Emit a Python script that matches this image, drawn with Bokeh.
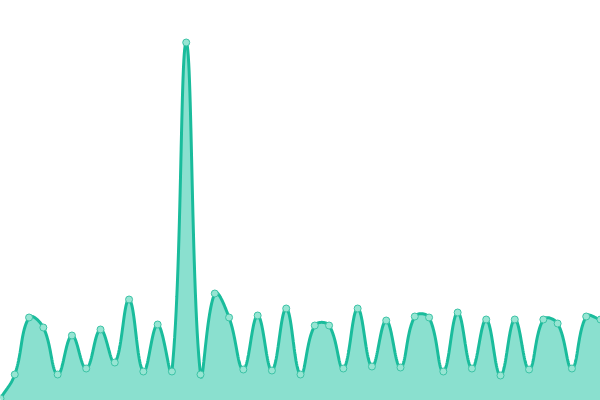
import numpy as np
from bokeh.plotting import figure
from bokeh.models import Range1d, GlobalInlineStyleSheet
from bokeh.embed import file_html
from bokeh.resources import INLINE

# data
values = [2, 26, 83, 73, 26, 65, 32, 71, 38, 101, 29, 76, 29, 358, 26, 107, 83, 31, 85, 30,
          92, 26, 75, 75, 32, 92, 34, 80, 33, 84, 83, 29, 88, 32, 81, 25, 81, 31, 81, 77,
          32, 84, 81]
xs = list(range(len(values)))

W, H = 600, 400
Y_MAX = 400.0
X_MAX = len(values) - 1
TENSION = 0.4

# cardinal-style spline (Chart.js splineCurve), computed in screen-proportional units
px = np.array(xs, dtype=float) * W / X_MAX
py = np.array(values, dtype=float) * H / Y_MAX
n = len(px)
cp_prev = np.zeros((n, 2))
cp_next = np.zeros((n, 2))
for i in range(n):
    p0 = (px[max(i - 1, 0)], py[max(i - 1, 0)])
    p1 = (px[i], py[i])
    p2 = (px[min(i + 1, n - 1)], py[min(i + 1, n - 1)])
    d01 = np.hypot(p1[0] - p0[0], p1[1] - p0[1])
    d12 = np.hypot(p2[0] - p1[0], p2[1] - p1[1])
    tot = d01 + d12
    s01 = d01 / tot if tot else 0
    s12 = d12 / tot if tot else 0
    fa = TENSION * s01
    fb = TENSION * s12
    cp_prev[i] = (p1[0] - fa * (p2[0] - p0[0]), p1[1] - fa * (p2[1] - p0[1]))
    cp_next[i] = (p1[0] + fb * (p2[0] - p0[0]), p1[1] + fb * (p2[1] - p0[1]))
cp_prev[:, 1] = np.clip(cp_prev[:, 1], 0, H)
cp_next[:, 1] = np.clip(cp_next[:, 1], 0, H)

cx, cy = [], []
t = np.linspace(0, 1, 30)
for i in range(n - 1):
    P0 = np.array([px[i], py[i]])
    P1 = cp_next[i]
    P2 = cp_prev[i + 1]
    P3 = np.array([px[i + 1], py[i + 1]])
    seg = ((1 - t) ** 3)[:, None] * P0 + (3 * (1 - t) ** 2 * t)[:, None] * P1 \
        + (3 * (1 - t) * t ** 2)[:, None] * P2 + (t ** 3)[:, None] * P3
    if i > 0:
        seg = seg[1:]
    cx.extend(seg[:, 0])
    cy.extend(seg[:, 1])
cx = np.array(cx) * X_MAX / W
cy = np.array(cy) * Y_MAX / H

p = figure(width=W, height=H, output_backend="svg", toolbar_location=None,
           x_range=Range1d(0, X_MAX), y_range=Range1d(0, Y_MAX),
           min_border=0, min_border_left=0, min_border_right=0,
           min_border_top=0, min_border_bottom=0)
p.axis.visible = False
p.grid.visible = False
p.outline_line_color = None
p.background_fill_color = "white"
p.border_fill_color = "white"

p.varea(x=cx, y1=0, y2=cy, fill_color="#8ae0cf", fill_alpha=1.0)
p.line(cx, cy, line_color="#1abc9c", line_width=3)
p.scatter(xs, values, size=7, fill_color="#97e5d3", line_color="#3cc3a6", line_width=1)

p.stylesheets = [GlobalInlineStyleSheet(css="html, body { margin: 0 !important; padding: 0 !important; overflow: hidden; }")]

open("out.html", "w").write(file_html(p, INLINE))
